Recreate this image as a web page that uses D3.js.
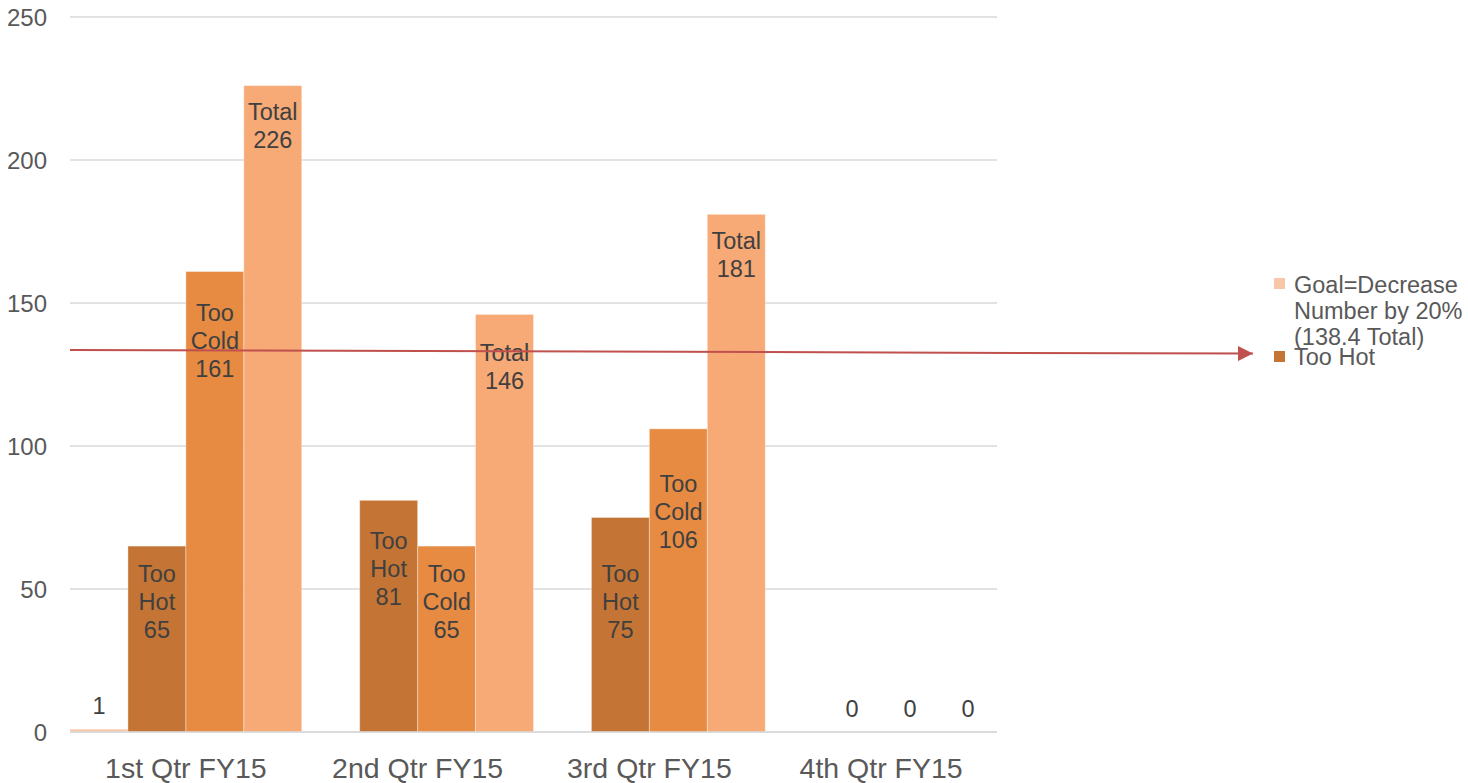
<!DOCTYPE html>
<html>
<head>
<meta charset="utf-8">
<script src="https://cdn.jsdelivr.net/npm/d3@7"></script>
<style>
  html, body { margin: 0; padding: 0; background: #fff; }
  svg { display: block; font-family: "Liberation Sans", Arial, sans-serif; }
</style>
</head>
<body>
<svg id="chart" width="1468" height="783"></svg>
<script>
// Quarterly temperature complaints, FY15
const quarters = ["1st Qtr FY15", "2nd Qtr FY15", "3rd Qtr FY15", "4th Qtr FY15"];
const seriesNames = ["Goal=Decrease Number by 20% (138.4 Total)", "Too Hot", "Too Cold", "Total"];
const goalValues = [1, null, null, null];
const tooHotValues = [65, 81, 75, 0];
const tooColdValues = [161, 65, 106, 0];
const totalValues = [226, 146, 181, 0];
const yTicks = [0, 50, 100, 150, 200, 250];
// goal arrow drawn across the plot (value at start, value at end)
const goalArrow = [133.6, 132.3];

const seriesColors = ["#F8C6A8", "#C47434", "#E78B42", "#F7A976"];
const labelWords = [null, ["Too", "Hot"], ["Too", "Cold"], ["Total"]];
// vertical drop (px) from bar top to first label line, per series per quarter
const labelDrop = [
  [0, 0, 0, 0],
  [28, 40, 56, 0],
  [41, 28, 55, 0],
  [26, 38, 26, 0]
];

const svg = d3.select("#chart");
const plotLeft = 70, plotRight = 997, plotTop = 17, plotBottom = 732;

const x0 = d3.scaleBand().domain(quarters).range([plotLeft, plotRight]).padding(0);
const x1 = d3.scaleBand().domain(d3.range(4)).range([0, x0.bandwidth()]).padding(0);
const y = d3.scaleLinear().domain([0, 250]).range([plotBottom, plotTop]);

// gridlines
svg.append("g").selectAll("line").data(yTicks).join("line")
  .attr("x1", plotLeft).attr("x2", plotRight)
  .attr("y1", d => y(d)).attr("y2", d => y(d))
  .attr("stroke", "#D9D9D9").attr("stroke-width", 1.5);

// y axis labels
const yAxis = d3.axisLeft(y).tickValues(yTicks).tickSize(0).tickPadding(0);
const yg = svg.append("g").attr("transform", `translate(47,0)`).call(yAxis);
yg.select(".domain").remove();
yg.selectAll("text").attr("font-size", 24).attr("fill", "#595959")
  .attr("font-family", "Liberation Sans, Arial, sans-serif").attr("dy", "0.35em");

// x axis labels
const xAxis = d3.axisBottom(x0).tickSize(0).tickPadding(0);
const xg = svg.append("g").attr("transform", `translate(0,${plotBottom})`).call(xAxis);
xg.select(".domain").remove();
xg.selectAll("text").attr("font-size", 28.5).attr("fill", "#595959")
  .attr("font-family", "Liberation Sans, Arial, sans-serif").attr("dy", null).attr("y", 46);

const seriesValues = [goalValues, tooHotValues, tooColdValues, totalValues];
const rows = [];
seriesValues.forEach((vals, s) => {
  vals.forEach((v, q) => {
    if (v !== null) rows.push({ s, q, v, cat: quarters[q] });
  });
});

// bars
svg.append("g").selectAll("rect").data(rows.filter(d => d.v > 0)).join("rect")
  .attr("x", d => x0(d.cat) + x1(d.s))
  .attr("width", x1.bandwidth())
  .attr("y", d => y(d.v))
  .attr("height", d => y(0) - y(d.v))
  .attr("fill", d => seriesColors[d.s])
  .attr("stroke", "rgba(255,255,255,0.35)").attr("stroke-width", 1);

// baseline redraw over bar bottoms
svg.append("line").attr("x1", plotLeft).attr("x2", plotRight)
  .attr("y1", y(0)).attr("y2", y(0)).attr("stroke", "#D9D9D9").attr("stroke-width", 1.5);

// data labels
const lg = svg.append("g").attr("fill", "#404040").attr("font-size", 23.5)
  .attr("text-anchor", "middle");
rows.forEach(d => {
  const cx = x0(d.cat) + x1(d.s) + x1.bandwidth() / 2;
  const words = labelWords[d.s];
  if (d.s === 0 || d.v === 0 || !words) {
    lg.append("text").attr("x", cx).attr("y", y(d.v) - 23).attr("dy", "0.35em").text(d.v);
    return;
  }
  const lines = words.concat([String(d.v)]);
  const y0 = y(d.v) + labelDrop[d.s][d.q];
  lines.forEach((t, i) => {
    lg.append("text").attr("x", cx).attr("y", y0 + i * 28).attr("dy", "0.35em").text(t);
  });
});

// goal arrow
const ax1 = plotLeft, ax2 = 1255;
const ay1 = y(goalArrow[0]), ay2 = y(goalArrow[1]);
svg.append("defs").append("marker")
  .attr("id", "arrowHead").attr("viewBox", "0 0 10 10")
  .attr("refX", 10).attr("refY", 5)
  .attr("markerWidth", 15).attr("markerHeight", 15)
  .attr("markerUnits", "userSpaceOnUse").attr("orient", "auto")
  .append("path").attr("d", "M0,0 L10,5 L0,10 Z").attr("fill", "#C0504D");
svg.append("line")
  .attr("x1", ax1).attr("y1", ay1).attr("x2", ax2 - 2).attr("y2", ay2)
  .attr("stroke", "#C0504D").attr("stroke-width", 2)
  .attr("marker-end", "url(#arrowHead)");

// legend (first two entries)
const legend = svg.append("g").attr("fill", "#595959").attr("font-size", 23.5);
legend.append("rect").attr("x", 1274).attr("y", 278).attr("width", 11).attr("height", 11)
  .attr("fill", seriesColors[0]);
["Goal=Decrease", "Number by 20%", "(138.4 Total)"].forEach((t, i) => {
  legend.append("text").attr("x", 1294).attr("y", 293 + i * 26).text(t);
});
legend.append("rect").attr("x", 1274).attr("y", 351).attr("width", 11).attr("height", 11)
  .attr("fill", seriesColors[1]);
legend.append("text").attr("x", 1294).attr("y", 365).text(seriesNames[1]);
</script>
</body>
</html>
